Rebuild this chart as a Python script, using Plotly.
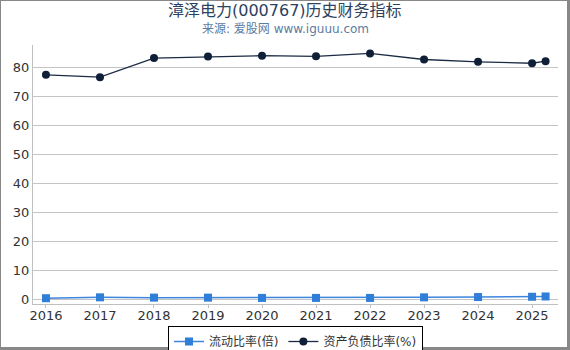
import plotly.graph_objects as go

years = [2016, 2017, 2018, 2019, 2020, 2021, 2022, 2023, 2024, 2025, 2025.25]
current_ratio = [0.5, 0.8, 0.7, 0.7, 0.6, 0.6, 0.6, 0.8, 0.9, 1.0, 1.1]
debt_ratio = [77.6, 76.8, 83.4, 83.9, 84.2, 84.0, 85.0, 82.9, 82.1, 81.6, 82.3]
tick_vals = [2016, 2017, 2018, 2019, 2020, 2021, 2022, 2023, 2024, 2025]
tick_text = [str(v) for v in tick_vals]

W, H = 570, 350
L, R, T, B = 33, 12, 45, 46
PW, PH = W - L - R, H - T - B

def px(x):
    return (x - L) / PW

def py(y):
    return 1 - (y - T) / PH

fig = go.Figure()
fig.add_trace(go.Scatter(
    x=years, y=current_ratio, name="流动比率(倍)", mode="lines+markers",
    line=dict(color="#3d86dc", width=1.5),
    marker=dict(symbol="square", size=8, color="#2f7ed8"),
))
fig.add_trace(go.Scatter(
    x=years, y=debt_ratio, name="资产负债比率(%)", mode="lines+markers",
    line=dict(color="#1c2b45", width=1.3),
    marker=dict(symbol="circle", size=8, color="#0f1f38"),
))

shapes = [
    dict(type="line", xref="paper", yref="paper", x0=px(0.5), x1=px(0.5), y0=py(0), y1=py(350), line=dict(color="#888", width=1)),
    dict(type="line", xref="paper", yref="paper", x0=px(0), x1=px(570), y0=py(0.5), y1=py(0.5), line=dict(color="#888", width=1)),
    dict(type="line", xref="paper", yref="paper", x0=px(568.5), x1=px(568.5), y0=py(0), y1=py(350), line=dict(color="#888", width=3)),
    dict(type="line", xref="paper", yref="paper", x0=px(0), x1=px(570), y0=py(348.5), y1=py(348.5), line=dict(color="#888", width=3)),
]

annotations = [
    dict(text="漳泽电力(000767)历史财务指标", xref="paper", yref="paper",
         x=px(285), y=py(10.5), xanchor="center", yanchor="middle", showarrow=False,
         font=dict(size=16, color="#2b4262", family="DejaVu Sans, Noto Sans CJK SC")),
    dict(text="来源: 爱股网 www.iguuu.com", xref="paper", yref="paper",
         x=px(285), y=py(29), xanchor="center", yanchor="middle", showarrow=False,
         font=dict(size=12, color="#5b7ca3", family="DejaVu Sans, Noto Sans CJK SC")),
]

fig.update_layout(
    width=W, height=H,
    margin=dict(l=L, r=R, t=T, b=B, autoexpand=False),
    paper_bgcolor="white", plot_bgcolor="white",
    font=dict(family="DejaVu Sans, Noto Sans CJK SC", color="#333"),
    xaxis=dict(
        range=[2015.76, 2025.48], tickvals=tick_vals, ticktext=tick_text,
        showgrid=False, zeroline=False, showline=True, linecolor="#c0c0c0", linewidth=1,
        ticks="outside", ticklen=3, tickcolor="#c0c0c0", ticklabelstandoff=-4,
        tickfont=dict(size=13, color="#333"),
    ),
    yaxis=dict(
        range=[-1.5, 87.9], tickvals=[0, 10, 20, 30, 40, 50, 60, 70, 80],
        showgrid=True, gridcolor="#c4c4c4", gridwidth=1, zeroline=False,
        showline=True, linecolor="#c0c0c0", linewidth=1,
        ticks="", tickfont=dict(size=13, color="#333"),
    ),
    legend=dict(
        orientation="h", x=0.5, xanchor="center", y=py(326), yanchor="top",
        bordercolor="#000", borderwidth=1, bgcolor="white",
        font=dict(size=12, color="#333", family="DejaVu Sans, Noto Sans CJK SC"),
        itemwidth=30, tracegroupgap=0,
    ),
    shapes=shapes,
    annotations=annotations,
    showlegend=True,
)

fig.write_html("out.html")
